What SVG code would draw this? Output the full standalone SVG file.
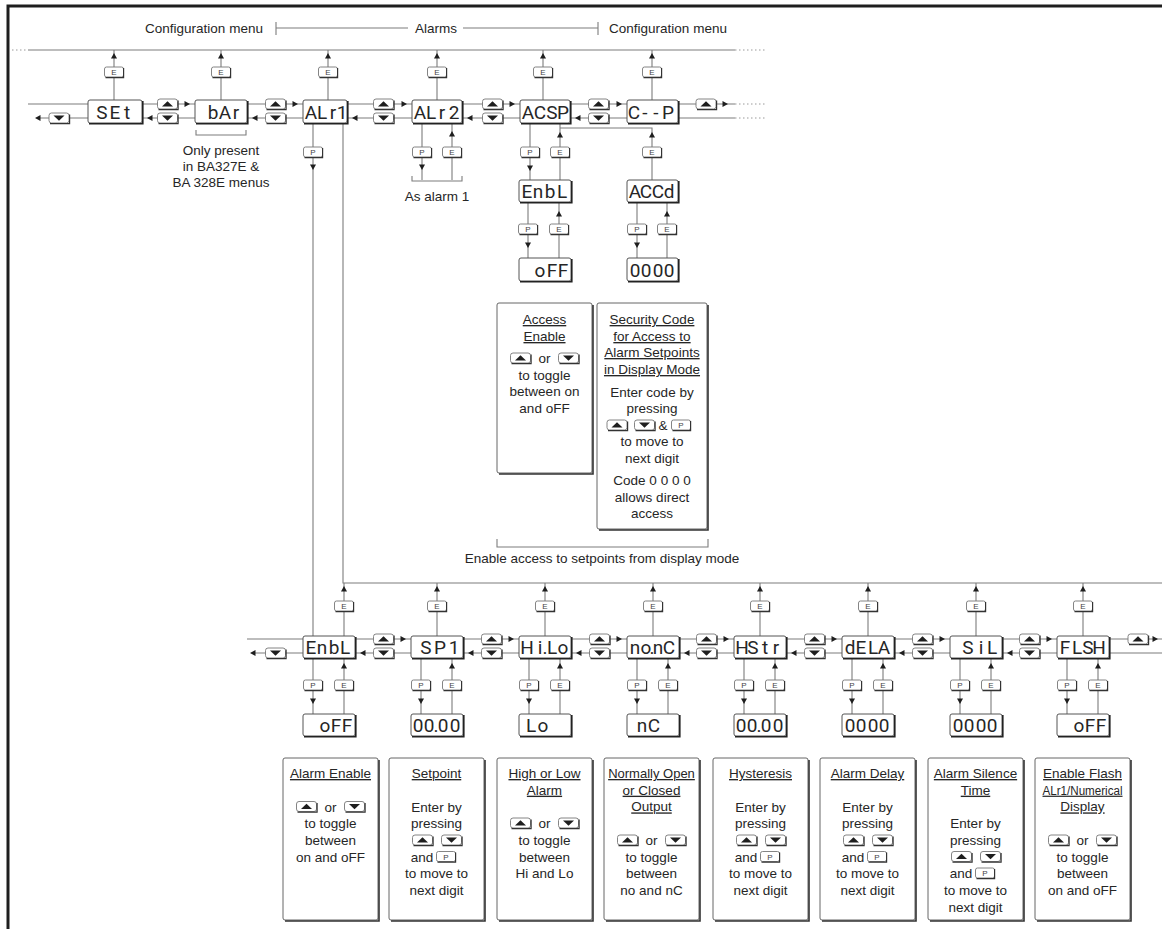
<svg xmlns="http://www.w3.org/2000/svg" width="1162" height="929" viewBox="0 0 1162 929">
<style>
.ln{fill:none;stroke:#7d7d7d;stroke-width:1.1}
.dot{fill:none;stroke:#9a9a9a;stroke-width:1;stroke-dasharray:1.5 2.5}
.frame{fill:none;stroke:#1e1e1e;stroke-width:3}
.disp{fill:#fff;stroke:#555;stroke-width:1}
.sh{fill:none;stroke:#222;stroke-width:1.6}
.key{fill:#fff;stroke:#777;stroke-width:0.9}
.ksh{fill:none;stroke:#333;stroke-width:1.2}
.kt{font-family:"Liberation Sans",Arial,sans-serif;font-size:8px;fill:#444;text-anchor:middle}
.ah{fill:#1e1e1e}
.seg{font-family:Roboto,"Liberation Sans",sans-serif;font-size:19px;fill:#262626;text-anchor:middle}
.t{font-family:"Liberation Sans",Arial,sans-serif;font-size:13.5px;fill:#262626;text-anchor:middle}
.u{text-decoration:underline}
.box{fill:#fff;stroke:#666;stroke-width:1}
.bsh{fill:none;stroke:#333;stroke-width:1.6}
</style>
<defs>
<g id="kE"><rect x="-9.5" y="-5" width="19" height="10" rx="2" class="key"/><path d="M-8.5 5.6H9.6V-4" class="ksh"/><text y="3" class="kt">E</text></g>
<g id="kP"><rect x="-9.5" y="-5" width="19" height="10" rx="2" class="key"/><path d="M-8.5 5.6H9.6V-4" class="ksh"/><text y="3" class="kt">P</text></g>
<g id="bU"><rect x="-10" y="-5" width="20" height="10" rx="2.5" class="key"/><path d="M-9 5.6H10.6V-3.5" class="ksh"/><path d="M-5.5 2.5H5.5L0-2.8Z" class="ah"/></g>
<g id="bD"><rect x="-10" y="-5" width="20" height="10" rx="2.5" class="key"/><path d="M-9 5.6H10.6V-3.5" class="ksh"/><path d="M-5.5-2.5H5.5L0 2.8Z" class="ah"/></g>
<path id="aR" d="M0 0L-5.5-3V3Z" class="ah"/>
<path id="aL" d="M0 0L5.5-3V3Z" class="ah"/>
<path id="aU" d="M0 0L-3 5.5H3Z" class="ah"/>
<path id="aD" d="M0 0L-3-5.5H3Z" class="ah"/>
</defs>
<rect width="1162" height="929" fill="#fff"/>
<path d="M8 929V6H1162" class="frame"/>

<g id="header">
<text x="204" y="33" class="t">Configuration menu</text>
<path d="M276 22V35M276 28H408M463 28H598M598 22V35" class="ln"/>
<text x="436" y="33" class="t">Alarms</text>
<text x="668" y="33" class="t">Configuration menu</text>
</g>

<g id="connectors">
<path d="M12 50H28M735 50H765M735 104H765M735 118H765" class="dot"/>
<path d="M28 50H735M114 50V100M221 50V100M328 50V100M437 50V100M543 50V100M652 50V100" class="ln"/>
<path d="M28 104H88M142 104H195M247 104H303M347 104H412M462 104H520M570 104H627M678 104H735" class="ln"/>
<path d="M38 118H88M142 118H195M247 118H303M347 118H412M462 118H520M570 118H627M678 118H735" class="ln"/>
<path d="M313 123V636M343 123V583H1162" class="ln"/>
<path d="M422 123V180M452 180V123M412 176V181H462V176" class="ln"/>
<path d="M530 123V180M560 180V123M560 128H652V180" class="ln"/>
<path d="M528 202V258M559 258V202M637 202V258M667 258V202" class="ln"/>
<path d="M497 539V547H708V539M196 130V135H246V130" class="ln"/>
<path d="M344 583V636M437 583V636M545 583V636M653 583V636M760 583V636M868 583V636M976 583V636M1083 583V636" class="ln"/>
<path d="M247 639H303M355 639H411M463 639H519M571 639H627M679 639H734M786 639H842M894 639H950M1002 639H1057M1109 639H1162" class="ln"/>
<path d="M255 653H303M355 653H411M463 653H519M571 653H627M679 653H734M786 653H842M894 653H950M1002 653H1057M1109 653H1162" class="ln"/>
<path d="M313 658V714M344 714V658M421 658V714M452 714V658M529 658V714M560 714V658M637 658V714M668 714V658M744 658V714M775 714V658M852 658V714M883 714V658M960 658V714M991 714V658M1067 658V714M1098 714V658" class="ln"/>
<use href="#aU" x="114" y="53"/><use href="#aU" x="221" y="53"/><use href="#aU" x="328" y="53"/><use href="#aU" x="437" y="53"/><use href="#aU" x="543" y="53"/><use href="#aU" x="652" y="53"/>
<use href="#aR" x="190" y="104"/><use href="#aR" x="298" y="104"/><use href="#aR" x="407" y="104"/><use href="#aR" x="515" y="104"/><use href="#aR" x="622" y="104"/><use href="#aR" x="728" y="104"/>
<use href="#aL" x="35" y="118"/><use href="#aL" x="147" y="118"/><use href="#aL" x="252" y="118"/><use href="#aL" x="352" y="118"/><use href="#aL" x="467" y="118"/><use href="#aL" x="575" y="118"/>
<use href="#aD" x="313" y="170"/><use href="#aD" x="422" y="170"/><use href="#aU" x="452" y="131"/><use href="#aD" x="530" y="171"/><use href="#aU" x="560" y="132"/><use href="#aU" x="652" y="132"/>
<use href="#aD" x="528" y="248"/><use href="#aU" x="559" y="211"/><use href="#aD" x="637" y="248"/><use href="#aU" x="667" y="211"/>
<use href="#aU" x="344" y="586"/><use href="#aU" x="437" y="586"/><use href="#aU" x="545" y="586"/><use href="#aU" x="653" y="586"/><use href="#aU" x="760" y="586"/><use href="#aU" x="868" y="586"/><use href="#aU" x="976" y="586"/><use href="#aU" x="1083" y="586"/>
<use href="#aR" x="406" y="639"/><use href="#aR" x="514" y="639"/><use href="#aR" x="622" y="639"/><use href="#aR" x="729" y="639"/><use href="#aR" x="837" y="639"/><use href="#aR" x="945" y="639"/><use href="#aR" x="1052" y="639"/><use href="#aR" x="1158" y="639"/>
<use href="#aL" x="250" y="653"/><use href="#aL" x="360" y="653"/><use href="#aL" x="468" y="653"/><use href="#aL" x="576" y="653"/><use href="#aL" x="684" y="653"/><use href="#aL" x="791" y="653"/><use href="#aL" x="899" y="653"/><use href="#aL" x="1007" y="653"/>
<use href="#aD" x="313" y="704"/><use href="#aU" x="344" y="663"/><use href="#aD" x="421" y="704"/><use href="#aU" x="452" y="663"/><use href="#aD" x="529" y="704"/><use href="#aU" x="560" y="663"/><use href="#aD" x="637" y="704"/><use href="#aU" x="668" y="663"/><use href="#aD" x="744" y="704"/><use href="#aU" x="775" y="663"/><use href="#aD" x="852" y="704"/><use href="#aU" x="883" y="663"/><use href="#aD" x="960" y="704"/><use href="#aU" x="991" y="663"/><use href="#aD" x="1067" y="704"/><use href="#aU" x="1098" y="663"/>
</g>

<g id="keys">
<use href="#kE" x="114" y="72"/><use href="#kE" x="221" y="72"/><use href="#kE" x="328" y="72"/><use href="#kE" x="437" y="72"/><use href="#kE" x="543" y="72"/><use href="#kE" x="652" y="72"/>
<use href="#bD" x="59" y="118"/>
<use href="#bU" x="167.5" y="104"/><use href="#bD" x="167.5" y="118"/>
<use href="#bU" x="275.5" y="104"/><use href="#bD" x="275.5" y="118"/>
<use href="#bU" x="383.5" y="104"/><use href="#bD" x="383.5" y="118"/>
<use href="#bU" x="492.5" y="104"/><use href="#bD" x="492.5" y="118"/>
<use href="#bU" x="598.5" y="104"/><use href="#bD" x="598.5" y="118"/>
<use href="#bU" x="706" y="104"/>
<use href="#kP" x="313" y="152"/>
<use href="#kP" x="422" y="152"/><use href="#kE" x="452" y="152"/>
<use href="#kP" x="530" y="152"/><use href="#kE" x="560" y="152"/><use href="#kE" x="652" y="152"/>
<use href="#kP" x="528" y="229"/><use href="#kE" x="559" y="229"/><use href="#kP" x="637" y="229"/><use href="#kE" x="667" y="229"/>
<use href="#kE" x="344" y="606"/><use href="#kE" x="437" y="606"/><use href="#kE" x="545" y="606"/><use href="#kE" x="653" y="606"/><use href="#kE" x="760" y="606"/><use href="#kE" x="868" y="606"/><use href="#kE" x="976" y="606"/><use href="#kE" x="1083" y="606"/>
<use href="#bD" x="275.5" y="653"/>
<use href="#bU" x="383.5" y="639"/><use href="#bD" x="383.5" y="653"/>
<use href="#bU" x="491.5" y="639"/><use href="#bD" x="491.5" y="653"/>
<use href="#bU" x="599.5" y="639"/><use href="#bD" x="599.5" y="653"/>
<use href="#bU" x="706.5" y="639"/><use href="#bD" x="706.5" y="653"/>
<use href="#bU" x="814.5" y="639"/><use href="#bD" x="814.5" y="653"/>
<use href="#bU" x="922.5" y="639"/><use href="#bD" x="922.5" y="653"/>
<use href="#bU" x="1029.5" y="639"/><use href="#bD" x="1029.5" y="653"/>
<use href="#bU" x="1138" y="639"/>
<use href="#kP" x="313" y="685"/><use href="#kE" x="344" y="685"/>
<use href="#kP" x="421" y="685"/><use href="#kE" x="452" y="685"/>
<use href="#kP" x="529" y="685"/><use href="#kE" x="560" y="685"/>
<use href="#kP" x="637" y="685"/><use href="#kE" x="668" y="685"/>
<use href="#kP" x="744" y="685"/><use href="#kE" x="775" y="685"/>
<use href="#kP" x="852" y="685"/><use href="#kE" x="883" y="685"/>
<use href="#kP" x="960" y="685"/><use href="#kE" x="991" y="685"/>
<use href="#kP" x="1067" y="685"/><use href="#kE" x="1098" y="685"/>
</g>

<g id="n-set"><rect x="88" y="100" width="54" height="23" rx="2" class="disp"/><path d="M89 123.8H142.8V101" class="sh"/><text class="seg" x="102 115 127" y="118.5">SEt</text></g>
<g id="n-bar"><rect x="195" y="100" width="52" height="23" rx="2" class="disp"/><path d="M196 123.8H247.8V101" class="sh"/><text class="seg" x="213 225 236" y="118.5">bAr</text></g>
<g id="n-alr1"><rect x="303" y="100" width="44" height="23" rx="2" class="disp"/><path d="M304 123.8H347.8V101" class="sh"/><text class="seg" x="311 322 333 342" y="118.5">ALr1</text></g>
<g id="n-alr2"><rect x="412" y="100" width="50" height="23" rx="2" class="disp"/><path d="M413 123.8H462.8V101" class="sh"/><text class="seg" x="420 431 442 454" y="118.5">ALr2</text></g>
<g id="n-acsp"><rect x="520" y="100" width="50" height="23" rx="2" class="disp"/><path d="M521 123.8H570.8V101" class="sh"/><text class="seg" x="528 540 552 563" y="118.5">ACSP</text></g>
<g id="n-cp"><rect x="627" y="100" width="51" height="23" rx="2" class="disp"/><path d="M628 123.8H678.8V101" class="sh"/><text class="seg" x="634 645 656 668" y="118.5">C--P</text></g>
<g id="n-enbl-a"><rect x="519" y="180" width="52" height="22" rx="2" class="disp"/><path d="M520 202.8H571.8V181" class="sh"/><text class="seg" x="527 538 550 562" y="198">EnbL</text></g>
<g id="n-accd"><rect x="627" y="180" width="51" height="22" rx="2" class="disp"/><path d="M628 202.8H678.8V181" class="sh"/><text class="seg" x="635 646 658 669" y="198">ACCd</text></g>
<g id="n-off-a"><rect x="519" y="258" width="52" height="23" rx="2" class="disp"/><path d="M520 281.8H571.8V259" class="sh"/><text class="seg" x="540 552 563" y="276.5">oFF</text></g>
<g id="n-code"><rect x="627" y="258" width="51" height="23" rx="2" class="disp"/><path d="M628 281.8H678.8V259" class="sh"/><text class="seg" x="635 646 658 669" y="276.5">0000</text></g>

<g id="n-enbl"><rect x="303" y="636" width="52" height="22" rx="2" class="disp"/><path d="M304 658.8H355.8V637" class="sh"/><text class="seg" x="311 322 334 345" y="654">EnbL</text></g>
<g id="n-sp1"><rect x="411" y="636" width="52" height="22" rx="2" class="disp"/><path d="M412 658.8H463.8V637" class="sh"/><text class="seg" x="426 440 454" y="654">SP1</text></g>
<g id="n-hilo"><rect x="519" y="636" width="52" height="22" rx="2" class="disp"/><path d="M520 658.8H571.8V637" class="sh"/><text class="seg" x="527 540 545 552 563" y="654">Hi.Lo</text></g>
<g id="n-nonc"><rect x="627" y="636" width="52" height="22" rx="2" class="disp"/><path d="M628 658.8H679.8V637" class="sh"/><text class="seg" x="635 646 652 658 669" y="654">no.nC</text></g>
<g id="n-hstr"><rect x="734" y="636" width="52" height="22" rx="2" class="disp"/><path d="M735 658.8H786.8V637" class="sh"/><text class="seg" x="742 753 765 776" y="654">HStr</text></g>
<g id="n-dela"><rect x="842" y="636" width="52" height="22" rx="2" class="disp"/><path d="M843 658.8H894.8V637" class="sh"/><text class="seg" x="850 861 873 884" y="654">dELA</text></g>
<g id="n-sil"><rect x="950" y="636" width="52" height="22" rx="2" class="disp"/><path d="M951 658.8H1002.8V637" class="sh"/><text class="seg" x="968 981 992" y="654">SiL</text></g>
<g id="n-flsh"><rect x="1057" y="636" width="52" height="22" rx="2" class="disp"/><path d="M1058 658.8H1109.8V637" class="sh"/><text class="seg" x="1065 1077 1088 1099" y="654">FLSH</text></g>
<g id="v-enbl"><rect x="303" y="714" width="52" height="22" rx="2" class="disp"/><path d="M304 736.8H355.8V715" class="sh"/><text class="seg" x="325 336 347" y="732">oFF</text></g>
<g id="v-sp1"><rect x="411" y="714" width="52" height="22" rx="2" class="disp"/><path d="M412 736.8H463.8V715" class="sh"/><text class="seg" x="418 429 436 443 455" y="732">00.00</text></g>
<g id="v-hilo"><rect x="519" y="714" width="52" height="22" rx="2" class="disp"/><path d="M520 736.8H571.8V715" class="sh"/><text class="seg" x="531 543" y="732">Lo</text></g>
<g id="v-nonc"><rect x="627" y="714" width="52" height="22" rx="2" class="disp"/><path d="M628 736.8H679.8V715" class="sh"/><text class="seg" x="642 654" y="732">nC</text></g>
<g id="v-hstr"><rect x="734" y="714" width="52" height="22" rx="2" class="disp"/><path d="M735 736.8H786.8V715" class="sh"/><text class="seg" x="741 752 759 766 778" y="732">00.00</text></g>
<g id="v-dela"><rect x="842" y="714" width="52" height="22" rx="2" class="disp"/><path d="M843 736.8H894.8V715" class="sh"/><text class="seg" x="850 861 873 884" y="732">0000</text></g>
<g id="v-sil"><rect x="950" y="714" width="52" height="22" rx="2" class="disp"/><path d="M951 736.8H1002.8V715" class="sh"/><text class="seg" x="958 969 981 992" y="732">0000</text></g>
<g id="v-flsh"><rect x="1057" y="714" width="52" height="22" rx="2" class="disp"/><path d="M1058 736.8H1109.8V715" class="sh"/><text class="seg" x="1079 1090 1101" y="732">oFF</text></g>

<g id="notes">
<text x="221" y="155" class="t">Only present</text>
<text x="221" y="171" class="t">in BA327E &amp;</text>
<text x="221" y="187" class="t">BA 328E menus</text>
<text x="437" y="201" class="t">As alarm 1</text>
<text x="602" y="563" class="t">Enable access to setpoints from display mode</text>
</g>

<g id="d-access">
<rect x="497" y="303" width="95" height="170" rx="2" class="box"/><path d="M499 474H593V305" class="bsh"/>
<text x="544.5" y="324" class="t u">Access</text>
<text x="544.5" y="341" class="t u">Enable</text>
<use href="#bU" x="520.5" y="358"/><text x="544.5" y="363" class="t">or</text><use href="#bD" x="568.5" y="358"/>
<text x="544.5" y="380" class="t">to toggle</text>
<text x="544.5" y="396" class="t">between on</text>
<text x="544.5" y="413" class="t">and oFF</text>
</g>
<g id="d-security">
<rect x="597" y="303" width="110" height="226" rx="2" class="box"/><path d="M599 530H708V305" class="bsh"/>
<text x="652" y="324" class="t u">Security Code</text>
<text x="652" y="341" class="t u">for Access to</text>
<text x="652" y="357" class="t u">Alarm Setpoints</text>
<text x="652" y="374" class="t u">in Display Mode</text>
<text x="652" y="397" class="t">Enter code by</text>
<text x="652" y="413" class="t">pressing</text>
<use href="#bU" x="617" y="425"/><use href="#bD" x="644.5" y="425"/><text x="663" y="430" class="t">&amp;</text><use href="#kP" x="681" y="425"/>
<text x="652" y="446" class="t">to move to</text>
<text x="652" y="463" class="t">next digit</text>
<text x="652" y="485" class="t">Code 0 0 0 0</text>
<text x="652" y="502" class="t">allows direct</text>
<text x="652" y="518" class="t">access</text>
</g>

<g id="d-alarm-enable">
<rect x="283" y="758" width="95" height="162" rx="2" class="box"/><path d="M285 921H379V760" class="bsh"/>
<text x="330.5" y="778" class="t u">Alarm Enable</text>
<use href="#bU" x="306.5" y="806.5"/><text x="330.5" y="811.5" class="t">or</text><use href="#bD" x="354.5" y="806.5"/>
<text x="330.5" y="828" class="t">to toggle</text>
<text x="330.5" y="845" class="t">between</text>
<text x="330.5" y="861.5" class="t">on and oFF</text>
</g>
<g id="d-setpoint">
<rect x="389" y="758" width="95" height="162" rx="2" class="box"/><path d="M391 921H485V760" class="bsh"/>
<text x="436.5" y="778" class="t u">Setpoint</text>
<text x="436.5" y="811.5" class="t">Enter by</text>
<text x="436.5" y="828" class="t">pressing</text>
<use href="#bU" x="422.5" y="840"/><use href="#bD" x="451.5" y="840"/>
<text x="422" y="861.5" class="t">and</text><use href="#kP" x="446" y="856.5"/>
<text x="436.5" y="878" class="t">to move to</text>
<text x="436.5" y="895" class="t">next digit</text>
</g>
<g id="d-hilo">
<rect x="497" y="758" width="95" height="162" rx="2" class="box"/><path d="M499 921H593V760" class="bsh"/>
<text x="544.5" y="778" class="t u">High or Low</text>
<text x="544.5" y="794.7" class="t u">Alarm</text>
<use href="#bU" x="520.5" y="823"/><text x="544.5" y="828" class="t">or</text><use href="#bD" x="568.5" y="823"/>
<text x="544.5" y="845" class="t">to toggle</text>
<text x="544.5" y="861.5" class="t">between</text>
<text x="544.5" y="878" class="t">Hi and Lo</text>
</g>
<g id="d-nonc">
<rect x="604" y="758" width="95" height="162" rx="2" class="box"/><path d="M606 921H700V760" class="bsh"/>
<text x="651.5" y="778" class="t u" style="font-size:13px">Normally Open</text>
<text x="651.5" y="794.7" class="t u">or Closed</text>
<text x="651.5" y="811.4" class="t u">Output</text>
<use href="#bU" x="627.5" y="840"/><text x="651.5" y="845" class="t">or</text><use href="#bD" x="675.5" y="840"/>
<text x="651.5" y="861.5" class="t">to toggle</text>
<text x="651.5" y="878" class="t">between</text>
<text x="651.5" y="895" class="t">no and nC</text>
</g>
<g id="d-hyst">
<rect x="713" y="758" width="95" height="162" rx="2" class="box"/><path d="M715 921H809V760" class="bsh"/>
<text x="760.5" y="778" class="t u">Hysteresis</text>
<text x="760.5" y="811.5" class="t">Enter by</text>
<text x="760.5" y="828" class="t">pressing</text>
<use href="#bU" x="746.5" y="840"/><use href="#bD" x="775.5" y="840"/>
<text x="746" y="861.5" class="t">and</text><use href="#kP" x="770" y="856.5"/>
<text x="760.5" y="878" class="t">to move to</text>
<text x="760.5" y="895" class="t">next digit</text>
</g>
<g id="d-delay">
<rect x="820" y="758" width="95" height="162" rx="2" class="box"/><path d="M822 921H916V760" class="bsh"/>
<text x="867.5" y="778" class="t u">Alarm Delay</text>
<text x="867.5" y="811.5" class="t">Enter by</text>
<text x="867.5" y="828" class="t">pressing</text>
<use href="#bU" x="853.5" y="840"/><use href="#bD" x="882.5" y="840"/>
<text x="853" y="861.5" class="t">and</text><use href="#kP" x="877" y="856.5"/>
<text x="867.5" y="878" class="t">to move to</text>
<text x="867.5" y="895" class="t">next digit</text>
</g>
<g id="d-silence">
<rect x="928" y="758" width="95" height="162" rx="2" class="box"/><path d="M930 921H1024V760" class="bsh"/>
<text x="975.5" y="778" class="t u">Alarm Silence</text>
<text x="975.5" y="794.7" class="t u">Time</text>
<text x="975.5" y="828" class="t">Enter by</text>
<text x="975.5" y="845" class="t">pressing</text>
<use href="#bU" x="961.5" y="856.5"/><use href="#bD" x="990.5" y="856.5"/>
<text x="961" y="878" class="t">and</text><use href="#kP" x="985" y="873"/>
<text x="975.5" y="895" class="t">to move to</text>
<text x="975.5" y="911.6" class="t">next digit</text>
</g>
<g id="d-flash">
<rect x="1035" y="758" width="95" height="162" rx="2" class="box"/><path d="M1037 921H1131V760" class="bsh"/>
<text x="1082.5" y="778" class="t u">Enable Flash</text>
<text x="1082.5" y="794.7" class="t u" style="font-size:12px" textLength="80" lengthAdjust="spacingAndGlyphs">ALr1/Numerical</text>
<text x="1082.5" y="811.4" class="t u">Display</text>
<use href="#bU" x="1058.5" y="840"/><text x="1082.5" y="845" class="t">or</text><use href="#bD" x="1106.5" y="840"/>
<text x="1082.5" y="861.5" class="t">to toggle</text>
<text x="1082.5" y="878" class="t">between</text>
<text x="1082.5" y="895" class="t">on and oFF</text>
</g>
</svg>
